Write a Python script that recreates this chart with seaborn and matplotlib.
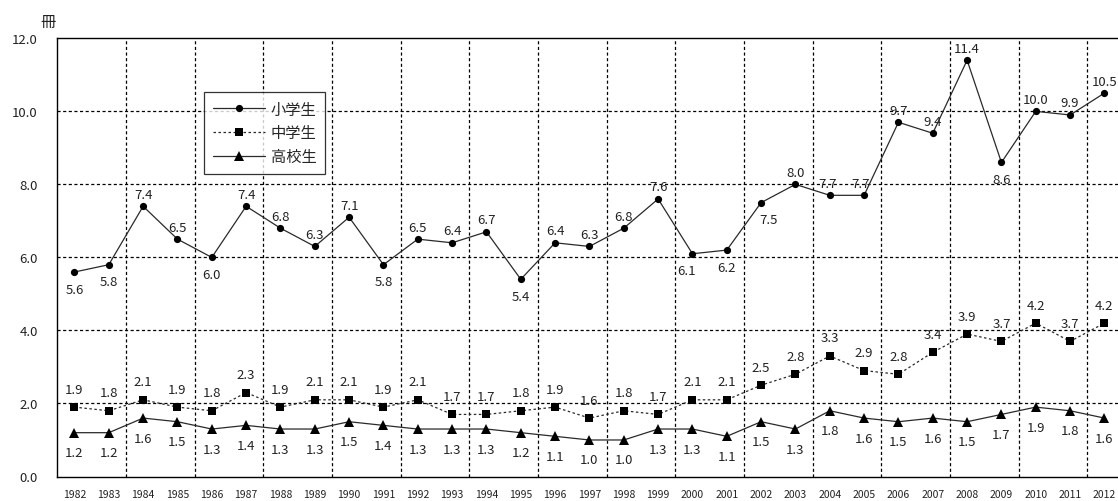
import matplotlib
matplotlib.use("Agg")
import matplotlib.pyplot as plt
import seaborn as sns
import pandas as pd
from matplotlib.lines import Line2D

years = list(range(1982, 2013))
elementary = [5.6, 5.8, 7.4, 6.5, 6.0, 7.4, 6.8, 6.3, 7.1, 5.8, 6.5, 6.4, 6.7, 5.4, 6.4, 6.3,
              6.8, 7.6, 6.1, 6.2, 7.5, 8.0, 7.7, 7.7, 9.7, 9.4, 11.4, 8.6, 10.0, 9.9, 10.5]
junior_high = [1.9, 1.8, 2.1, 1.9, 1.8, 2.3, 1.9, 2.1, 2.1, 1.9, 2.1, 1.7, 1.7, 1.8, 1.9, 1.6,
               1.8, 1.7, 2.1, 2.1, 2.5, 2.8, 3.3, 2.9, 2.8, 3.4, 3.9, 3.7, 4.2, 3.7, 4.2]
high_school = [1.2, 1.2, 1.6, 1.5, 1.3, 1.4, 1.3, 1.3, 1.5, 1.4, 1.3, 1.3, 1.3, 1.2, 1.1, 1.0,
               1.0, 1.3, 1.3, 1.1, 1.5, 1.3, 1.8, 1.6, 1.5, 1.6, 1.5, 1.7, 1.9, 1.8, 1.6]
series_names = ["小学生", "中学生", "高校生"]
y_ticks = [0, 2, 4, 6, 8, 10, 12]
unit_label = "冊"

# years whose elementary-school label sits below the marker
elem_below = {1982, 1983, 1986, 1991, 1995, 2000, 2001, 2002, 2009}
# small sideways nudges (pixels) for a few crowded labels
elem_nudge = {2000: -6, 2002: 7, 2004: -2, 2005: -4}

sns.set_theme(style="white")
plt.rcParams["font.family"] = ["Noto Sans CJK JP", "DejaVu Sans"]

df = pd.DataFrame({"idx": range(len(years)), "year": years,
                   series_names[0]: elementary,
                   series_names[1]: junior_high,
                   series_names[2]: high_school})

fig = plt.figure(figsize=(11.18, 5.02), dpi=100)
ax = fig.add_axes([57.3 / 1118, 1 - 477.5 / 502, 1064.3 / 1118, 438.2 / 502])

line_col = "#2a2a2a"
styles = {
    series_names[0]: dict(marker="o", linestyle="-", markersize=5.2),
    series_names[1]: dict(marker="s", linestyle=(0, (2, 2)), markersize=5.6),
    series_names[2]: dict(marker="^", linestyle="-", markersize=6.5),
}
for name in series_names:
    st = styles[name]
    sns.lineplot(data=df, x="idx", y=name, ax=ax, color=line_col, linewidth=0.9,
                 marker=st["marker"], markersize=st["markersize"], markeredgewidth=0,
                 markerfacecolor="black", linestyle=st["linestyle"], legend=False)

ax.set_xlim(-0.5, len(years) - 0.5)
ax.set_ylim(0, 12)
ax.set_xlabel("")
ax.set_ylabel("")

# grid: dashed, horizontal at every tick, vertical between every second pair of years
for y in y_ticks[1:-1]:
    ax.axhline(y, color="black", linewidth=0.9, linestyle=(0, (2.5, 2)), zorder=0)
for b in range(1, len(years) - 1, 2):
    ax.axvline(b + 0.5, color="black", linewidth=0.9, linestyle=(0, (2.5, 2)), zorder=0)

for side in ["left", "bottom", "top"]:
    ax.spines[side].set_color("black")
    ax.spines[side].set_linewidth(1.0)
ax.spines["right"].set_visible(False)

ax.set_yticks(y_ticks)
ax.set_yticklabels([f"{v:.1f}" for v in y_ticks], fontsize=9.5, color="#222222")
ax.set_xticks(range(len(years)))
ax.set_xticklabels([str(y) for y in years], fontsize=7.5, color="#222222")
ax.tick_params(axis="both", length=0)
ax.tick_params(axis="y", pad=14)
ax.tick_params(axis="x", pad=9)

txt_kw = dict(textcoords="offset pixels", ha="center", va="center",
              fontsize=9.5, color="#222222")
for i, (yr, v) in enumerate(zip(years, elementary)):
    dy = -17 if yr in elem_below else 12
    ax.annotate(f"{v:.1f}", (i, v), xytext=(elem_nudge.get(yr, 0), dy), **txt_kw)
for i, v in enumerate(junior_high):
    ax.annotate(f"{v:.1f}", (i, v), xytext=(0, 18), **txt_kw)
for i, v in enumerate(high_school):
    ax.annotate(f"{v:.1f}", (i, v), xytext=(0, -20), **txt_kw)

handles = [Line2D([], [], color=line_col, linewidth=0.9, linestyle=styles[n]["linestyle"],
                  marker=styles[n]["marker"], markersize=styles[n]["markersize"],
                  markerfacecolor="black", markeredgewidth=0)
           for n in series_names]
leg = ax.legend(handles, series_names, loc="upper left", bbox_to_anchor=(0.138, 0.877),
                borderaxespad=0, fontsize=11, frameon=True, fancybox=False,
                handlelength=3.4, borderpad=0.55, labelspacing=0.45, handletextpad=0.4)
leg.get_frame().set_edgecolor("black")
leg.get_frame().set_linewidth(0.9)

fig.text(48 / 1118, 1 - 22 / 502, unit_label, fontsize=11, ha="center", va="center",
         color="#222222")

fig.savefig("out.png", dpi=100)
